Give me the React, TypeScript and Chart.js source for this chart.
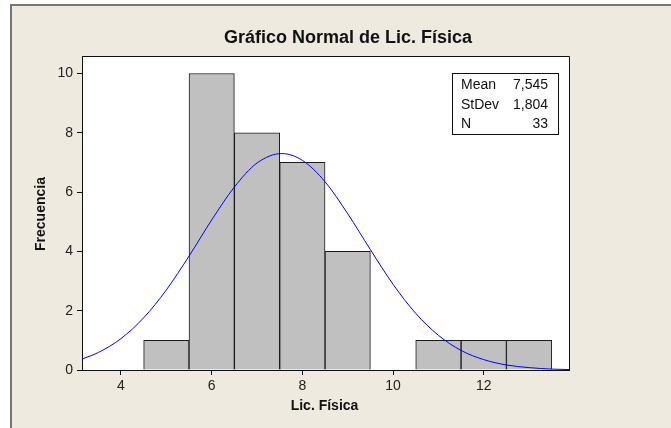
import { useEffect, useRef } from 'react';
import { Chart, registerables } from 'chart.js';

Chart.register(...registerables);

// ---- data ----
const binCenters = [5, 6, 7, 8, 9, 10, 11, 12, 13];
const frequencies = [1, 10, 8, 7, 4, 0, 1, 1, 1];
const curveX = [3.14, 3.5, 4, 4.5, 5, 5.5, 6, 6.5, 7, 7.545, 8, 8.5, 9, 9.5, 10, 10.5, 11, 11.5, 12, 12.5, 13, 13.5, 13.88];
const curveY = [0.37, 0.59, 1.06, 1.76, 2.7, 3.84, 5.06, 6.17, 6.98, 7.3, 7.07, 6.35, 5.27, 4.06, 2.89, 1.91, 1.17, 0.66, 0.35, 0.17, 0.08, 0.03, 0.015];
const xTicks = [4, 6, 8, 10, 12];
const yTicks = [0, 2, 4, 6, 8, 10];
const statLabels = ['Mean', 'StDev', 'N'];
const statValues = ['7,545', '1,804', '33'];
const titleText = 'Gráfico Normal de Lic. Física';
const xTitle = 'Lic. Física';
const yTitle = 'Frecuencia';

const FONT = '"Liberation Sans", Arial, sans-serif';

const overlay = {
  id: 'overlay',
  beforeDraw(chart: any) {
    const { ctx, chartArea } = chart;
    ctx.save();
    ctx.fillStyle = '#ffffff';
    ctx.fillRect(chartArea.left, chartArea.top, chartArea.right - chartArea.left, chartArea.bottom - chartArea.top);
    ctx.restore();
  },
  afterDraw(chart: any) {
    const { ctx, chartArea } = chart;
    const { left, top, right, bottom } = chartArea;
    ctx.save();
    // frame top & right
    ctx.strokeStyle = '#111';
    ctx.lineWidth = 1;
    ctx.beginPath();
    ctx.moveTo(Math.round(left), Math.round(top) + 0.5);
    ctx.lineTo(Math.round(right) + 0.5, Math.round(top) + 0.5);
    ctx.lineTo(Math.round(right) + 0.5, Math.round(bottom));
    ctx.stroke();

    // title
    ctx.fillStyle = '#111';
    ctx.font = `bold 18px ${FONT}`;
    ctx.textAlign = 'center';
    ctx.textBaseline = 'alphabetic';
    ctx.fillText(titleText, 348, 43);

    // x title
    ctx.font = `bold 14px ${FONT}`;
    ctx.fillText(xTitle, (left + right) / 2 - 1, 410);

    // y title
    ctx.save();
    ctx.translate(45, (top + bottom) / 2 + 1);
    ctx.rotate(-Math.PI / 2);
    ctx.fillText(yTitle, 0, 0);
    ctx.restore();

    // stats box
    const bx = 452.5, by = 73.5, bw = 106, bh = 61;
    ctx.fillStyle = '#fff';
    ctx.fillRect(bx, by, bw, bh);
    ctx.strokeStyle = '#111';
    ctx.strokeRect(bx, by, bw, bh);
    ctx.fillStyle = '#111';
    ctx.font = `14px ${FONT}`;
    const baselines = [89, 109, 128];
    statLabels.forEach((l, i) => {
      ctx.textAlign = 'left';
      ctx.fillText(l, 461, baselines[i]);
      ctx.textAlign = 'right';
      ctx.fillText(statValues[i], 548, baselines[i]);
    });
    ctx.restore();
  },
};

export default function App() {
  const ref = useRef<HTMLCanvasElement>(null);
  useEffect(() => {
    const chart = new Chart(ref.current as HTMLCanvasElement, {
      type: 'bar',
      data: {
        datasets: [
          {
            type: 'line',
            data: curveX.map((x, i) => ({ x, y: curveY[i] })),
            borderColor: '#0000ff',
            borderWidth: 1,
            pointRadius: 0,
            cubicInterpolationMode: 'monotone',
            order: 0,
          } as any,
          {
            type: 'bar',
            data: binCenters.map((x, i) => ({ x, y: frequencies[i] })),
            backgroundColor: '#c0c0c0',
            borderColor: '#1a1a1a',
            borderWidth: 1,
            barPercentage: 1,
            categoryPercentage: 1,
            order: 1,
          } as any,
        ],
      },
      options: {
        responsive: false,
        animation: false,
        events: [],
        layout: { padding: { left: 0, top: 56, right: 102, bottom: 0 } },
        plugins: { legend: { display: false }, title: { display: false }, tooltip: { enabled: false } },
        scales: {
          x: {
            type: 'linear',
            min: 3.14,
            max: 13.88,
            offset: false,
            afterBuildTicks: (s: any) => { s.ticks = xTicks.map((v) => ({ value: v })); },
            afterFit: (s: any) => { s.height = 58; },
            grid: { offset: false, drawOnChartArea: false, drawTicks: true, tickLength: 5, color: '#111', lineWidth: 1 },
            border: { display: true, color: '#111', width: 1 },
            ticks: { color: '#222', font: { family: FONT, size: 14 }, padding: 3, maxRotation: 0 },
          },
          y: {
            type: 'linear',
            min: 0,
            max: 10.59,
            afterBuildTicks: (s: any) => { s.ticks = yTicks.map((v) => ({ value: v })); },
            afterFit: (s: any) => { s.width = 82; },
            grid: { offset: false, drawOnChartArea: false, drawTicks: true, tickLength: 5, color: '#111', lineWidth: 1 },
            border: { display: true, color: '#111', width: 1 },
            ticks: { color: '#222', font: { family: FONT, size: 14 }, padding: 4 },
          },
        },
      },
      plugins: [overlay],
    } as any);
    return () => chart.destroy();
  }, []);
  return (
    <div style={{ position: 'fixed', left: 0, top: 0, width: 671, height: 428, background: '#ffffff', overflow: 'hidden' }}>
      <div
        style={{
          position: 'absolute',
          left: 10,
          top: 4,
          right: 0,
          bottom: 0,
          background: '#eeeae0',
          borderTop: '2px solid #777',
          borderLeft: '2px solid #777',
        }}
      />
      <canvas ref={ref} width={671} height={428} style={{ position: 'absolute', left: 0, top: 0 }} />
    </div>
  );
}
